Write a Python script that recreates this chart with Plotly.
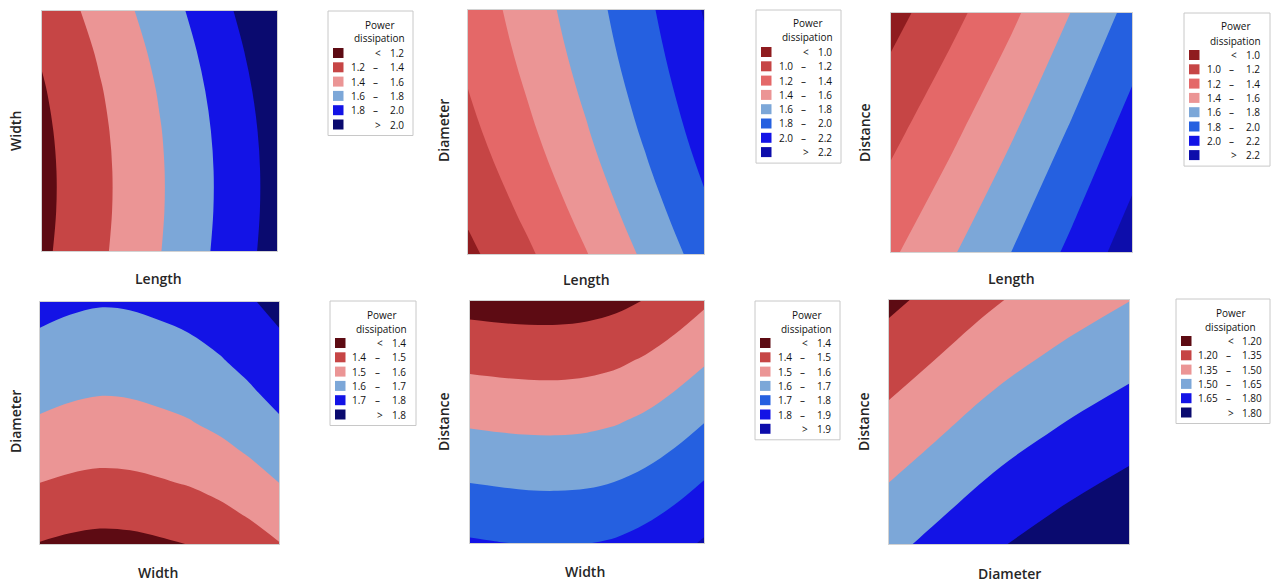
import plotly.graph_objects as go

W, H = 1274, 583

# ---------------- data ----------------
# Panel 1: Length (x) vs Width (y)
p1_x = [0.0, 0.25, 0.5, 0.75, 1.0]
p1_y = [0.0, 0.1667, 0.3333, 0.5, 0.6667, 0.8333, 1.0]
p1_z = [
    [1.162, 1.369, 1.592, 1.832, 2.086],
    [1.150, 1.357, 1.580, 1.820, 2.074],
    [1.149, 1.356, 1.579, 1.819, 2.073],
    [1.160, 1.367, 1.590, 1.830, 2.084],
    [1.183, 1.390, 1.613, 1.853, 2.107],
    [1.218, 1.425, 1.648, 1.888, 2.142],
    [1.264, 1.471, 1.694, 1.934, 2.188],
]
p1_levels = ["1.2", "1.4", "1.6", "1.8", "2.0"]

# Panel 2: Length (x) vs Diameter (y)
p2_x = [0.0, 0.25, 0.5, 0.75, 1.0]
p2_y = [0.0, 0.125, 0.25, 0.375, 0.5, 0.625, 0.75, 0.875, 1.0]
p2_z = [
    [0.956, 1.167, 1.391, 1.634, 1.887],
    [1.010, 1.221, 1.445, 1.688, 1.941],
    [1.060, 1.271, 1.495, 1.738, 1.991],
    [1.107, 1.318, 1.542, 1.785, 2.038],
    [1.149, 1.360, 1.584, 1.827, 2.080],
    [1.186, 1.397, 1.621, 1.864, 2.117],
    [1.220, 1.431, 1.655, 1.898, 2.151],
    [1.250, 1.461, 1.685, 1.928, 2.181],
    [1.276, 1.487, 1.711, 1.954, 2.212],
]
p2_levels = ["1.0", "1.2", "1.4", "1.6", "1.8", "2.0", "2.2"]

# Panel 3: Length (x) vs Distance (y)
p3_x = [0.0, 0.25, 0.5, 0.75, 1.0]
p3_y = [0.0, 0.5, 1.0]
p3_z = [
    [1.369, 1.578, 1.801, 2.046, 2.304],
    [1.149, 1.359, 1.581, 1.826, 2.085],
    [0.928, 1.140, 1.361, 1.606, 1.865],
]
p3_levels = ["1.0", "1.2", "1.4", "1.6", "1.8", "2.0", "2.2"]

# Panel 4: Width (x) vs Diameter (y)
p4_x = [0.0, 0.125, 0.25, 0.375, 0.5, 0.625, 0.75, 0.875, 1.0]
p4_y = [0.0, 0.125, 0.25, 0.375, 0.5, 0.625, 0.75, 0.875, 1.0]
p4_z = [
    [1.396, 1.382, 1.374, 1.377, 1.388, 1.402, 1.426, 1.458, 1.496],
    [1.447, 1.433, 1.425, 1.428, 1.439, 1.453, 1.477, 1.509, 1.547],
    [1.499, 1.485, 1.477, 1.480, 1.491, 1.505, 1.529, 1.561, 1.599],
    [1.544, 1.530, 1.522, 1.525, 1.536, 1.550, 1.574, 1.606, 1.644],
    [1.589, 1.575, 1.567, 1.570, 1.581, 1.595, 1.619, 1.651, 1.689],
    [1.626, 1.612, 1.604, 1.607, 1.618, 1.632, 1.656, 1.688, 1.726],
    [1.661, 1.647, 1.639, 1.642, 1.653, 1.667, 1.691, 1.723, 1.761],
    [1.695, 1.681, 1.673, 1.676, 1.687, 1.701, 1.725, 1.757, 1.795],
    [1.728, 1.714, 1.706, 1.709, 1.720, 1.734, 1.758, 1.790, 1.828],
]
p4_levels = ["1.4", "1.5", "1.6", "1.7", "1.8"]

# Panel 5: Width (x) vs Distance (y)
p5_x = [0.0, 0.125, 0.25, 0.375, 0.5, 0.625, 0.75, 0.875, 1.0]
p5_y = [0.0, 0.25, 0.5, 0.75, 1.0]
p5_z = [
    [1.810, 1.802, 1.796, 1.794, 1.798, 1.810, 1.834, 1.868, 1.910],
    [1.699, 1.692, 1.686, 1.685, 1.689, 1.702, 1.727, 1.761, 1.804],
    [1.588, 1.581, 1.577, 1.576, 1.581, 1.594, 1.619, 1.655, 1.698],
    [1.477, 1.471, 1.467, 1.466, 1.472, 1.486, 1.512, 1.548, 1.591],
    [1.366, 1.360, 1.357, 1.357, 1.363, 1.378, 1.404, 1.441, 1.485],
]
p5_levels = ["1.4", "1.5", "1.6", "1.7", "1.8", "1.9"]

# Panel 6: Diameter (x) vs Distance (y)
p6_x = [0.0, 0.125, 0.25, 0.375, 0.5, 0.625, 0.75, 0.875, 1.0]
p6_y = [0.0, 0.5, 1.0]
p6_z = [
    [1.612, 1.660, 1.709, 1.758, 1.802, 1.840, 1.877, 1.910, 1.942],
    [1.390, 1.438, 1.487, 1.536, 1.580, 1.618, 1.655, 1.688, 1.720],
    [1.167, 1.215, 1.264, 1.313, 1.357, 1.395, 1.432, 1.465, 1.497],
]
p6_levels = ["1.20", "1.35", "1.50", "1.65", "1.80"]

# ---------------- styles ----------------
MAROON = "#5d0b13"
DKRED = "#8f1c1f"
RED = "#c64545"
SALMON = "#e46868"
PINK = "#eb9595"
LBLUE = "#7ca7d8"
MBLUE = "#2560e0"
BBLUE = "#1313e6"
NAVY = "#0a0a6f"
DBLUE = "#0d0dab"

panels = [
    dict(x=p1_x, y=p1_y, z=p1_z, levels=p1_levels,
         colors=[MAROON, RED, PINK, LBLUE, BBLUE, NAVY],
         dom=(42, 277, 11, 251), leg=(328, 11, 85), wide=False,
         xt=("Length", 158, 278), yt=("Width", 15, 131)),
    dict(x=p2_x, y=p2_y, z=p2_z, levels=p2_levels,
         colors=[DKRED, RED, SALMON, PINK, LBLUE, MBLUE, BBLUE, DBLUE],
         dom=(468, 704, 10, 254), leg=(756, 10, 85), wide=False,
         xt=("Length", 586, 280), yt=("Diameter", 443, 131)),
    dict(x=p3_x, y=p3_y, z=p3_z, levels=p3_levels,
         colors=[DKRED, RED, SALMON, PINK, LBLUE, MBLUE, BBLUE, DBLUE],
         dom=(891, 1132, 13, 252), leg=(1184, 13, 86), wide=False,
         xt=("Length", 1011, 278), yt=("Distance", 865, 132)),
    dict(x=p4_x, y=p4_y, z=p4_z, levels=p4_levels,
         colors=[MAROON, RED, PINK, LBLUE, BBLUE, NAVY],
         dom=(40, 279, 302, 544), leg=(330, 301, 86), wide=False,
         xt=("Width", 158, 572), yt=("Diameter", 15, 422)),
    dict(x=p5_x, y=p5_y, z=p5_z, levels=p5_levels,
         colors=[MAROON, RED, PINK, LBLUE, MBLUE, BBLUE, DBLUE],
         dom=(470, 704, 301, 543), leg=(755, 301, 85), wide=False,
         xt=("Width", 585, 571), yt=("Distance", 443, 422)),
    dict(x=p6_x, y=p6_y, z=p6_z, levels=p6_levels,
         colors=[MAROON, RED, PINK, LBLUE, BBLUE, NAVY],
         dom=(889, 1129, 300, 544), leg=(1176, 299, 94), wide=True,
         xt=("Diameter", 1009, 573), yt=("Distance", 863, 422)),
]

AX_FONT = dict(family="Open Sans, Lato, sans-serif", size=14, color="#262626", weight=600)
LEG_FONT = dict(family="Open Sans, Lato, sans-serif", size=10, color="#111111")
BORDER = "#d2d2d2"


def px(x):
    return x / W


def py(y):
    return 1 - y / H


fig = go.Figure()
shapes = []
annotations = []

for i, p in enumerate(panels):
    n = i + 1
    xa = "x" if n == 1 else f"x{n}"
    ya = "y" if n == 1 else f"y{n}"
    lv = [float(v) for v in p["levels"]]
    size = round(lv[1] - lv[0], 6)
    nc = len(lv)
    cs = [[k / nc, c] for k, c in enumerate(p["colors"])]
    fig.add_trace(go.Contour(
        x=p["x"], y=p["y"], z=p["z"],
        xaxis=xa, yaxis=ya,
        autocontour=False,
        contours=dict(start=lv[0], end=lv[-1], size=size, coloring="fill", showlines=False),
        line=dict(width=0, smoothing=1.0),
        colorscale=cs, showscale=False, hoverinfo="skip",
    ))
    x0, x1, y0, y1 = p["dom"]
    axkw = dict(showticklabels=False, ticks="", showgrid=False, zeroline=False,
                showline=True, mirror=True, linecolor=BORDER, linewidth=1,
                range=[0, 1], fixedrange=True)
    fig.update_layout({
        f"xaxis{'' if n == 1 else n}": dict(domain=[px(x0), px(x1)], anchor=ya, **axkw),
        f"yaxis{'' if n == 1 else n}": dict(domain=[py(y1), py(y0)], anchor=xa, **axkw),
    })
    # axis titles
    t, tx, ty = p["xt"]
    annotations.append(dict(text=t, x=px(tx), y=py(ty), xref="paper", yref="paper",
                            showarrow=False, font=AX_FONT, xanchor="center", yanchor="middle"))
    t, tx, ty = p["yt"]
    annotations.append(dict(text=t, x=px(tx), y=py(ty), xref="paper", yref="paper",
                            showarrow=False, font=AX_FONT, textangle=-90,
                            xanchor="center", yanchor="middle"))

    # legend box
    L, T, LW = p["leg"]
    if p["wide"]:
        lo_r, dash_c, hi_r, sign_c, title_c = 43, 52, 86.5, 55, 54
    else:
        lo_r, dash_c, hi_r, sign_c, title_c = 37.5, 47, 77, 50, 51
    nrows = nc + 1
    row0 = T + 42
    step = 14.3
    bottom = row0 + (nrows - 1) * step + 11
    shapes.append(dict(type="rect", xref="paper", yref="paper",
                       x0=px(L), x1=px(L + LW), y0=py(bottom), y1=py(T),
                       line=dict(color="#c8c8c8", width=1), fillcolor="white", layer="above"))
    annotations.append(dict(text="Power", x=px(L + title_c), y=py(T + 13.5), xref="paper", yref="paper",
                            showarrow=False, font=LEG_FONT, xanchor="center", yanchor="middle"))
    annotations.append(dict(text="dissipation", x=px(L + title_c), y=py(T + 27.5), xref="paper", yref="paper",
                            showarrow=False, font=LEG_FONT, xanchor="center", yanchor="middle"))
    labels = p["levels"]
    for r in range(nrows):
        yc = row0 + r * step
        shapes.append(dict(type="rect", xref="paper", yref="paper",
                           x0=px(L + 5), x1=px(L + 15.5), y0=py(yc + 5), y1=py(yc - 5),
                           line=dict(width=0), fillcolor=p["colors"][r], layer="above"))
        if r == 0:
            items = [("<", sign_c, "center"), (labels[0], hi_r, "right")]
        elif r == nrows - 1:
            items = [(">", sign_c, "center"), (labels[-1], hi_r, "right")]
        else:
            items = [(labels[r - 1], lo_r, "right"), ("–", dash_c, "center"), (labels[r], hi_r, "right")]
        for txt, xx, anc in items:
            annotations.append(dict(text=txt, x=px(L + xx), y=py(yc), xref="paper", yref="paper",
                                    showarrow=False, font=LEG_FONT, xanchor=anc, yanchor="middle",
                                    borderpad=0))

fig.update_layout(
    width=W, height=H,
    margin=dict(l=0, r=0, t=0, b=0),
    paper_bgcolor="white", plot_bgcolor="white",
    showlegend=False,
    shapes=shapes, annotations=annotations,
)

fig.write_html("out.html", config={"displayModeBar": False, "staticPlot": True},
               post_script="document.body.style.margin='0px';document.body.style.overflow='hidden';")
